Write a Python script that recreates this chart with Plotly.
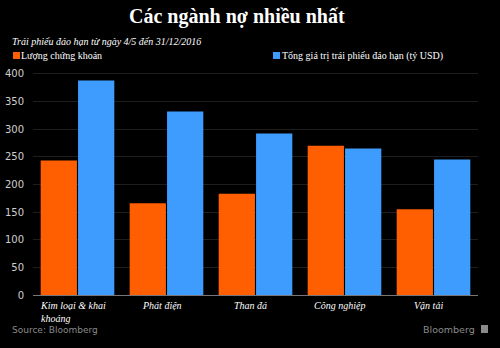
import plotly.graph_objects as go

categories = ["Kim loại & khai<br>khoáng", "Phát điện", "Than đá", "Công nghiệp", "Vận tải"]
so_luong = [243, 166, 183, 270, 155]
gia_tri = [388, 332, 292, 265, 245]
y_ticks = [0, 50, 100, 150, 200, 250, 300, 350, 400]

ORANGE = "#ff5f00"
BLUE = "#3f9cff"
serif = "Liberation Serif"
sans = "DejaVu Sans"

fig = go.Figure()
fig.add_trace(go.Bar(x=categories, y=so_luong, name="Lượng chứng khoán",
                     marker=dict(color=ORANGE, line=dict(width=0))))
fig.add_trace(go.Bar(x=categories, y=gia_tri, name="Tổng giá trị trái phiếu đáo hạn (tỷ USD)",
                     marker=dict(color=BLUE, line=dict(width=0))))

fig.update_layout(
    width=500, height=348,
    paper_bgcolor="black", plot_bgcolor="black",
    margin=dict(l=33, r=22, t=71, b=53),
    barmode="group", bargap=0.16, bargroupgap=0.03,
    showlegend=False,
    xaxis=dict(showticklabels=False, showgrid=False, zeroline=False,
               showline=True, linecolor="#777", linewidth=1),
    yaxis=dict(range=[0, 405], tickvals=y_ticks, showgrid=True, gridcolor="#1e1e1e",
               gridwidth=1, zeroline=False, ticks="outside", ticklen=6, tickcolor="black",
               automargin=False,
               tickfont=dict(family=sans, size=10, color="#cfcfcf")),
)


def px(xp):
    return (xp - 33) / 445


def py(yp):
    return (295 - yp) / 224


annotations = [
    dict(text="<b>Các ngành nợ nhiều nhất</b>", x=px(237), y=py(17),
         xanchor="center", yanchor="middle",
         font=dict(family=serif, size=20, color="white")),
    dict(text="<i>Trái phiếu đáo hạn từ ngày 4/5 đến 31/12/2016</i>", x=px(10), y=py(41),
         xanchor="left", yanchor="middle",
         font=dict(family=serif, size=10, color="white")),
    dict(text="Lượng chứng khoán", x=px(19), y=py(56),
         xanchor="left", yanchor="middle",
         font=dict(family=serif, size=10, color="white")),
    dict(text="Tổng giá trị trái phiếu đáo hạn (tỷ USD)", x=px(280), y=py(56),
         xanchor="left", yanchor="middle",
         font=dict(family=serif, size=10, color="white")),
    dict(text="Source: Bloomberg", x=px(10), y=py(330),
         xanchor="left", yanchor="middle",
         font=dict(family=sans, size=9, color="#8a8a8a")),
    dict(text="Bloomberg", x=px(477), y=py(329),
         xanchor="right", yanchor="middle",
         font=dict(family=sans, size=9.5, color="#8a8a8a")),
]
for a in annotations:
    a.update(xref="paper", yref="paper", showarrow=False)

for c in categories:
    annotations.append(dict(text="<i>" + c + "</i>", x=c, y=0, xref="x", yref="paper",
                            xanchor="center", yanchor="top", yshift=-3, xshift=-5,
                            showarrow=False, align="left",
                            font=dict(family=serif, size=10, color="white")))
fig.update_layout(annotations=annotations)

shapes = [
    dict(type="rect", xref="paper", yref="paper", x0=px(13), x1=px(20), y0=py(52), y1=py(59),
         fillcolor=ORANGE, line=dict(width=0)),
    dict(type="rect", xref="paper", yref="paper", x0=px(273), x1=px(280), y0=py(52), y1=py(59),
         fillcolor=BLUE, line=dict(width=0)),
    dict(type="rect", xref="paper", yref="paper", x0=px(481), x1=px(488), y0=py(325), y1=py(333),
         fillcolor="#8a8a8a", line=dict(width=0)),
]
fig.update_layout(shapes=shapes)

fig.write_html("out.html")
